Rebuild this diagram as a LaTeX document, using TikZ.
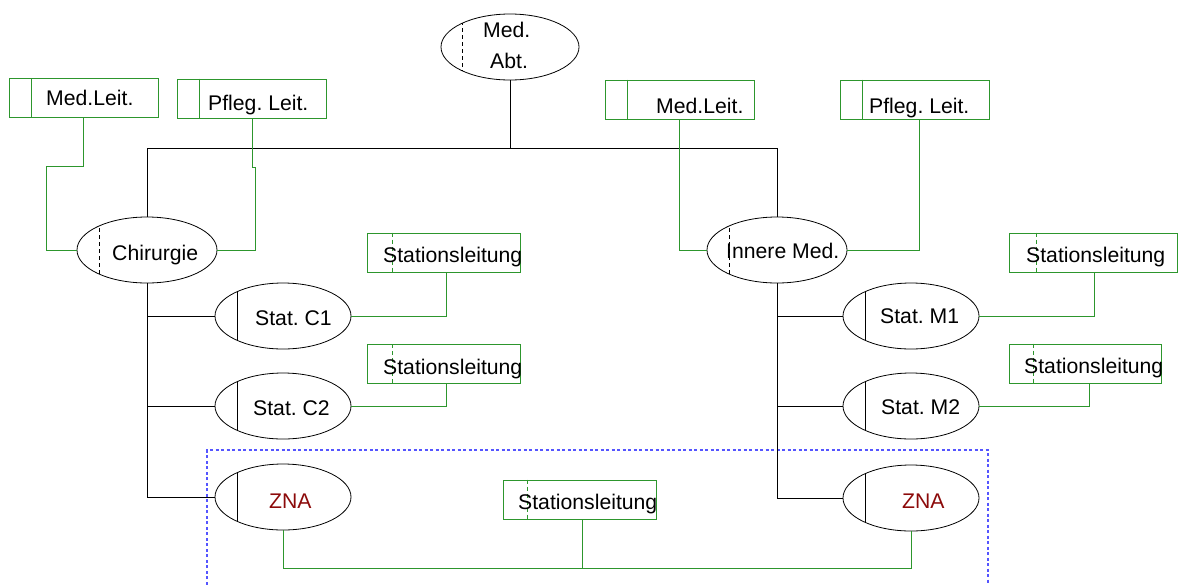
\documentclass[tikz,border=0pt]{standalone}
\usepackage{fontspec}
\setmainfont{Liberation Sans}
\usetikzlibrary{shapes.geometric}
\definecolor{leitgreen}{RGB}{45,150,45}
\definecolor{grpblue}{RGB}{85,85,255}
\definecolor{znared}{RGB}{140,10,10}
\frenchspacing
\begin{document}
\begin{tikzpicture}[x=1pt,y=-1pt,
  unit/.style={ellipse, draw=black, line width=0.8pt, minimum width=#1, minimum height=66pt, inner sep=0pt},
  unit/.default=136pt,
  leitbox/.style={rectangle, draw=leitgreen, line width=0.9pt, inner sep=0pt, minimum width=#1, minimum height=39pt},
  lbl/.style={font=\fontsize{21.2}{25}\selectfont, inner sep=0pt, anchor=base west},
  tree/.style={draw=black, line width=0.8pt},
  glink/.style={draw=leitgreen, line width=0.9pt},
  sdiv/.style={draw=leitgreen, line width=0.9pt},
  ddiv/.style={draw=leitgreen, line width=0.9pt, dash pattern=on 4pt off 3pt},
  edash/.style={draw=black, line width=0.8pt, dash pattern=on 4pt off 3pt},
  esolid/.style={draw=black, line width=0.8pt},
]
\useasboundingbox (0,0) rectangle (1180,584);

% group frame around the emergency units
\draw[grpblue, line width=1.2pt, dash pattern=on 3pt off 2.5pt] (207,590) -- (207,450) -- (988,450) -- (988,590);

% ---------- organisational units (ellipses) ----------
\node[unit=138pt] (abt)  at (510,47)  {};
\node[unit=140pt] (chir) at (147,250) {};
\node[unit=140pt] (inn)  at (777,250) {};
\node[unit] (c1)  at (283,316) {};
\node[unit] (c2)  at (283,406) {};
\node[unit] (znaL) at (283,497) {};
\node[unit] (m1)  at (911,316) {};
\node[unit] (m2)  at (911,406) {};
\node[unit] (znaR) at (911,498) {};

% dividers inside the ellipses
\begin{scope}\clip (510,47) ellipse [x radius=69pt, y radius=33pt];
  \draw[edash] (462,0) -- (462,90);\end{scope}
\begin{scope}\clip (147,250) ellipse [x radius=70pt, y radius=33pt];
  \draw[edash] (99,200) -- (99,300);\end{scope}
\begin{scope}\clip (777,250) ellipse [x radius=70pt, y radius=33pt];
  \draw[edash] (729,200) -- (729,300);\end{scope}
\foreach \cx/\cy in {283/316, 283/406, 283/497, 911/316, 911/406, 911/498}{
  \begin{scope}\clip (\cx,\cy) ellipse [x radius=68pt, y radius=33pt];
    \draw[esolid] (\cx-46,\cy-40) -- (\cx-46,\cy+40);\end{scope}
}

% ---------- leadership boxes ----------
\node[leitbox=149pt] (mlL) at (83.5,98)   {};
\node[leitbox=149pt] (plL) at (251.5,98.5) {};
\node[leitbox=149pt] (mlR) at (679.5,99.5) {};
\node[leitbox=149pt] (plR) at (914.5,99.5) {};
\node[leitbox=153pt] (sC1) at (443.5,252.5) {};
\node[leitbox=153pt] (sC2) at (443.5,364)   {};
\node[leitbox=168pt] (sM1) at (1093,252.5)  {};
\node[leitbox=152pt] (sM2) at (1085,363.5)  {};
\node[leitbox=153pt] (sZ)  at (579.5,499.5) {};

% box dividers
\draw[sdiv] (mlL.north west) ++(23,0) -- ++(0,39);
\draw[sdiv] (plL.north west) ++(23,0) -- ++(0,39);
\draw[sdiv] (mlR.north west) ++(23,0) -- ++(0,39);
\draw[sdiv] (plR.north west) ++(23,0) -- ++(0,39);
\draw[ddiv] (sC1.north west) ++(26,0) -- ++(0,39);
\draw[ddiv] (sC2.north west) ++(26,0) -- ++(0,39);
\draw[ddiv] (sM1.north west) ++(28,0) -- ++(0,39);
\draw[ddiv] (sM2.north west) ++(25,0) -- ++(0,39);
\draw[ddiv] (sZ.north west)  ++(25,0) -- ++(0,39);

% ---------- texts ----------
\node[lbl] (tAbt1) at (483,37) {Med.};
\node[lbl] (tAbt2) at (490,68) {Abt.};
\node[lbl] (tChir) at (112,260) {Chirurgie};
\node[lbl] (tInn)  at (726,258) {Innere Med.};
\node[lbl] (tC1)   at (255,325) {Stat. C1};
\node[lbl] (tC2)   at (253,415) {Stat. C2};
\node[lbl] (tM1)   at (880,323) {Stat. M1};
\node[lbl] (tM2)   at (881,414) {Stat. M2};
\node[lbl, text=znared] (tZL) at (269,508) {ZNA};
\node[lbl, text=znared] (tZR) at (902,508) {ZNA};
\node[lbl] (tmlL) at (46,105)  {Med.Leit.};
\node[lbl] (tplL) at (208,110) {Pfleg. Leit.};
\node[lbl] (tmlR) at (656,113) {Med.Leit.};
\node[lbl] (tplR) at (869,113) {Pfleg. Leit.};
\node[lbl] (tsC1) at (383,262) {Stationsleitung};
\node[lbl] (tsC2) at (383,374) {Stationsleitung};
\node[lbl] (tsM1) at (1026,262) {Stationsleitung};
\node[lbl] (tsM2) at (1024,373) {Stationsleitung};
\node[lbl] (tsZ)  at (518,509) {Stationsleitung};

% ---------- hierarchy (black) ----------
\coordinate (busL) at (147,148);
\coordinate (busR) at (777,148);
\draw[tree] (abt.south) -- (abt.south |- busL);
\draw[tree] (chir.north) -- (busL) -- (busR) -- (inn.north);
\draw[tree] (chir.south) |- (znaL.west);
\draw[tree] (chir.south |- c1.west) -- (c1.west);
\draw[tree] (chir.south |- c2.west) -- (c2.west);
\draw[tree] (inn.south) |- (znaR.west);
\draw[tree] (inn.south |- m1.west) -- (m1.west);
\draw[tree] (inn.south |- m2.west) -- (m2.west);

% ---------- leadership links (green) ----------
\draw[glink] (mlL.south) -- ++(0,48) -| ([xshift=-30pt]chir.west) -- (chir.west);
\draw[glink] ([xshift=0.5pt]plL.south) -- ++(0,49) -- ++(3,0) |- (chir.east);
\draw[glink] (mlR.south) |- (inn.west);
\draw[glink] ([xshift=4.5pt]plR.south) |- (inn.east);
\draw[glink] ([xshift=2.5pt]sC1.south) |- (c1.east);
\draw[glink] ([xshift=2.5pt]sC2.south) |- (c2.east);
\draw[glink] ([xshift=1pt]sM1.south) |- (m1.east);
\draw[glink] ([xshift=4pt]sM2.south) |- (m2.east);
\coordinate (zbus) at (582,568);
\draw[glink] (znaL.south) |- (zbus) -| (znaR.south);
\draw[glink] (zbus) -- (zbus |- sZ.south);
\end{tikzpicture}
\end{document}
